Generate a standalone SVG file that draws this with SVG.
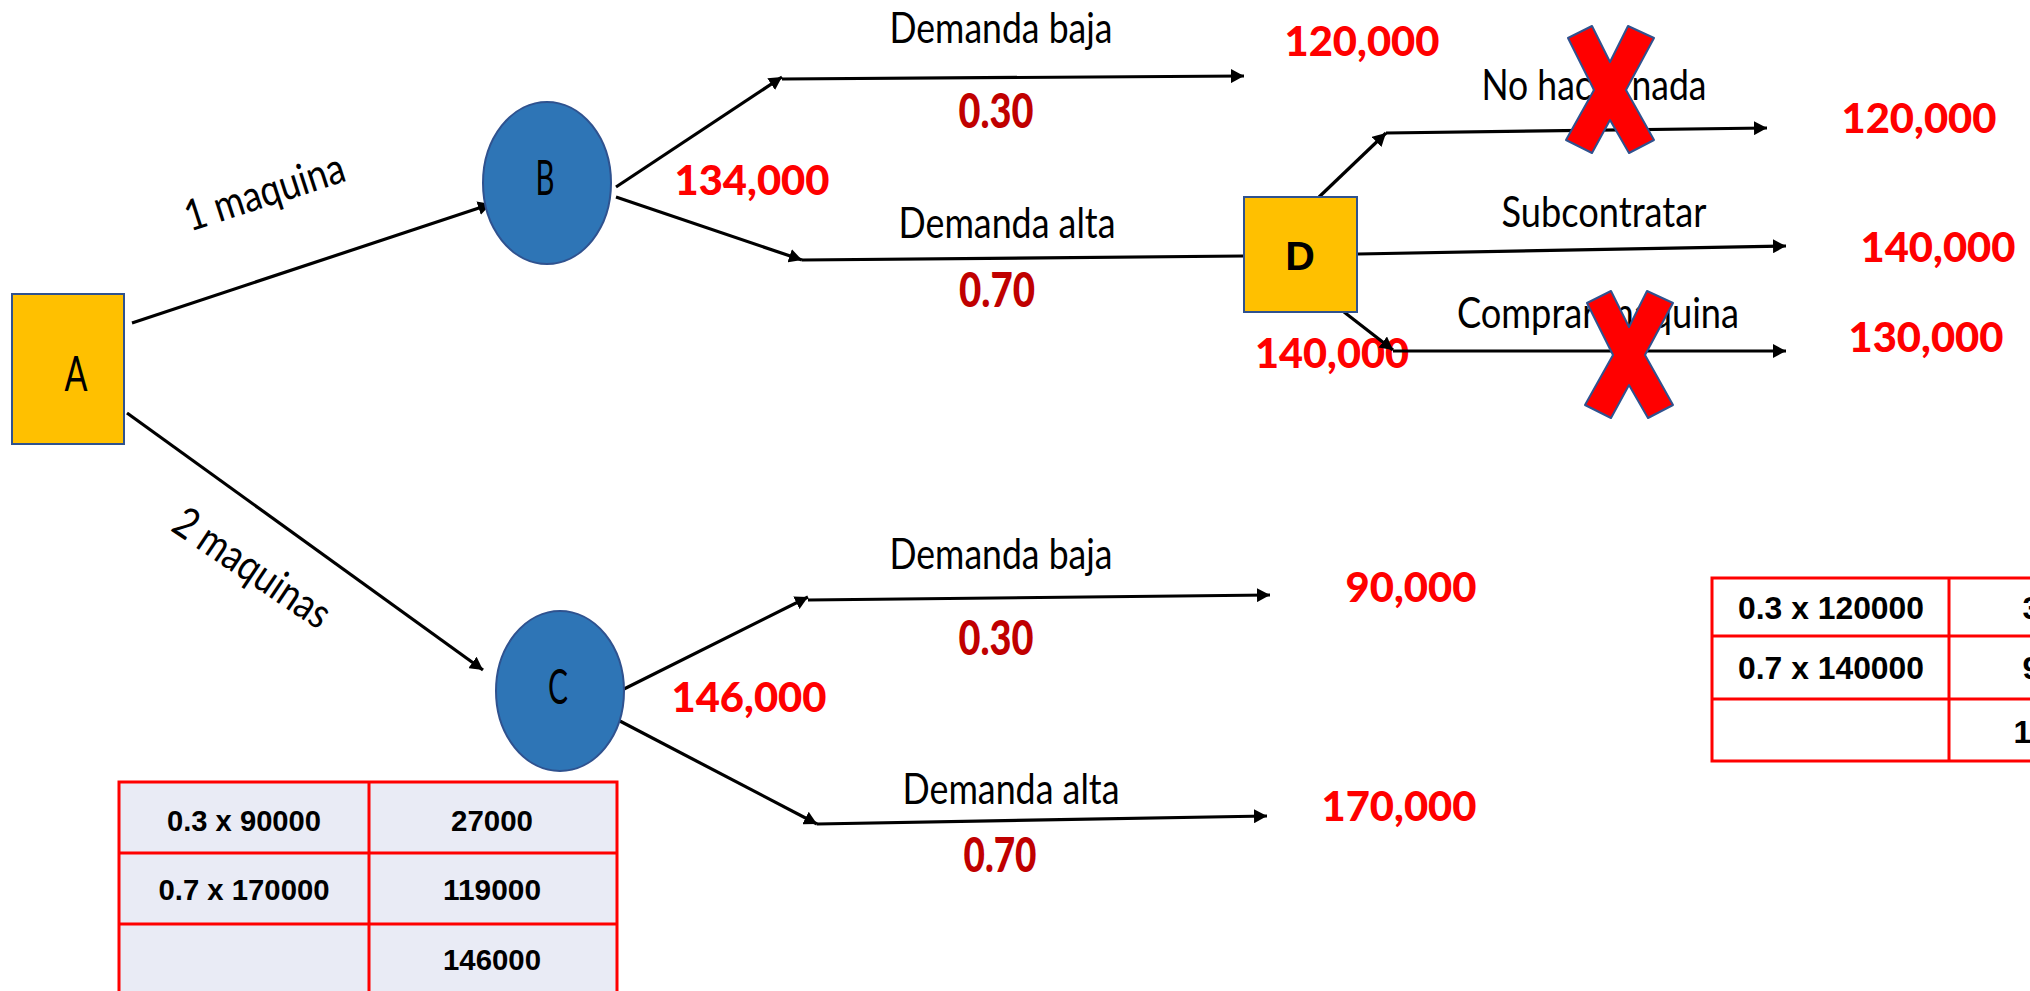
<svg xmlns="http://www.w3.org/2000/svg" width="2030" height="991" viewBox="0 0 2030 991">
  <style>
    .lbl { font-family: Lato, "Open Sans", sans-serif; font-size: 43px; fill: #000; text-anchor: middle; }
    .node-txt { font-family: Lato, "Open Sans", sans-serif; font-size: 48px; fill: #000; text-anchor: middle; }
    .val { font-family: Lato, "Open Sans", sans-serif; font-weight: 900; font-size: 41px; fill: #FF0000; text-anchor: middle; }
    .prob { font-family: Lato, "Open Sans", sans-serif; font-weight: 900; font-size: 47px; fill: #C00000; text-anchor: middle; }
    .cell { font-family: "Liberation Sans", Arial, sans-serif; font-weight: bold; font-size: 30px; fill: #000; text-anchor: middle; }
    .cell-r { font-family: "Liberation Sans", Arial, sans-serif; font-weight: bold; font-size: 32px; fill: #000; text-anchor: middle; }
    .edge { stroke: #000; stroke-width: 3.2; fill: none; }
    .arrow { marker-end: url(#head); }
    .decision { fill: #FFC000; stroke: #2F528F; stroke-width: 2; }
    .chance { fill: #2E75B6; stroke: #2F528F; stroke-width: 2; }
    .grid { stroke: #FF0000; stroke-width: 3; fill: none; }
    .cross { fill: #FF0000; stroke: #2F528F; stroke-width: 2; stroke-linejoin: round; }
  </style>
  <defs>
    <marker id="head" markerUnits="userSpaceOnUse" markerWidth="14" markerHeight="14" refX="13" refY="7" orient="auto">
      <path d="M0,0 L13,7 L0,14 Z" fill="#000"/>
    </marker>
    <!-- X mark used to strike out rejected options, centred on 0,0 -->
    <path id="x-mark" d="M-42,-52 L-18,-64 L0,-28 L18,-64 L44,-52 L16,0 L44,50 L19,63 L0,30 L-18,63 L-44,50 L-16,0 Z"/>
  </defs>

  <rect width="2030" height="991" fill="#FFFFFF"/>

  <!-- expected value tables -->
  <g id="table-c">
    <rect x="119" y="782" width="498" height="220" fill="#E9EBF5"/>
    <path class="grid" d="M119,1002 V782 H617 V1002 M369,782 V1002 M119,853 H617 M119,924 H617"/>
    <text class="cell" x="244" y="831" textLength="154" lengthAdjust="spacingAndGlyphs">0.3 x 90000</text>
    <text class="cell" x="492" y="831" textLength="82" lengthAdjust="spacingAndGlyphs">27000</text>
    <text class="cell" x="244" y="900" textLength="171" lengthAdjust="spacingAndGlyphs">0.7 x 170000</text>
    <text class="cell" x="492" y="900" textLength="98" lengthAdjust="spacingAndGlyphs">119000</text>
    <text class="cell" x="492" y="970" textLength="98" lengthAdjust="spacingAndGlyphs">146000</text>
  </g>
  <g id="table-b">
    <rect x="1712" y="578" width="474" height="183" fill="#FFFFFF"/>
    <path class="grid" d="M1712,578 H2186 V761 H1712 Z M1949,578 V761 M1712,636 H2186 M1712,699 H2186"/>
    <text class="cell-r" x="1831" y="619" textLength="186" lengthAdjust="spacingAndGlyphs">0.3 x 120000</text>
    <text class="cell-r" x="1831" y="679" textLength="186" lengthAdjust="spacingAndGlyphs">0.7 x 140000</text>
    <text class="cell-r" x="2067" y="619">36000</text>
    <text class="cell-r" x="2067" y="679">98000</text>
    <text class="cell-r" x="2067" y="743">134000</text>
  </g>

  <!-- branch labels, probabilities and payoffs -->
  <g id="labels">
    <text class="lbl" transform="translate(269,206) rotate(-18)" textLength="166" lengthAdjust="spacingAndGlyphs">1 maquina</text>
    <text class="lbl" transform="translate(244,580) rotate(34)" textLength="180" lengthAdjust="spacingAndGlyphs">2 maquinas</text>

    <text class="lbl" x="1001" y="43" textLength="223" lengthAdjust="spacingAndGlyphs">Demanda baja</text>
    <text class="prob" x="996" y="128" textLength="75" lengthAdjust="spacingAndGlyphs">0.30</text>
    <text class="val" x="752" y="195" textLength="155" lengthAdjust="spacingAndGlyphs">134,000</text>
    <text class="lbl" x="1007" y="238" textLength="217" lengthAdjust="spacingAndGlyphs">Demanda alta</text>
    <text class="prob" x="997" y="307" textLength="76" lengthAdjust="spacingAndGlyphs">0.70</text>
    <text class="val" x="1362" y="56" textLength="155" lengthAdjust="spacingAndGlyphs">120,000</text>

    <text class="lbl" x="1594" y="100" textLength="225" lengthAdjust="spacingAndGlyphs">No hacer nada</text>
    <text class="val" x="1919" y="133" textLength="155" lengthAdjust="spacingAndGlyphs">120,000</text>
    <text class="lbl" x="1604" y="227" textLength="205" lengthAdjust="spacingAndGlyphs">Subcontratar</text>
    <text class="val" x="1938" y="262" textLength="155" lengthAdjust="spacingAndGlyphs">140,000</text>
    <text class="lbl" x="1598" y="328" textLength="282" lengthAdjust="spacingAndGlyphs">Comprar maquina</text>
    <text class="val" x="1926" y="352" textLength="155" lengthAdjust="spacingAndGlyphs">130,000</text>
    <text class="val" x="1332" y="368" textLength="154" lengthAdjust="spacingAndGlyphs">140,000</text>

    <text class="lbl" x="1001" y="569" textLength="223" lengthAdjust="spacingAndGlyphs">Demanda baja</text>
    <text class="prob" x="996" y="655" textLength="75" lengthAdjust="spacingAndGlyphs">0.30</text>
    <text class="val" x="749" y="712" textLength="155" lengthAdjust="spacingAndGlyphs">146,000</text>
    <text class="lbl" x="1011" y="804" textLength="217" lengthAdjust="spacingAndGlyphs">Demanda alta</text>
    <text class="prob" x="1000" y="872" textLength="73" lengthAdjust="spacingAndGlyphs">0.70</text>
    <text class="val" x="1411" y="602" textLength="131" lengthAdjust="spacingAndGlyphs">90,000</text>
    <text class="val" x="1399" y="821" textLength="155" lengthAdjust="spacingAndGlyphs">170,000</text>
  </g>

  <!-- branches -->
  <g id="connectors">
    <line class="edge arrow" x1="132" y1="323" x2="491" y2="204"/>
    <line class="edge arrow" x1="127" y1="413" x2="483" y2="670"/>

    <line class="edge arrow" x1="616" y1="187" x2="782" y2="77"/>
    <line class="edge arrow" x1="782" y1="79" x2="1244" y2="76"/>
    <line class="edge arrow" x1="616" y1="197" x2="802" y2="260"/>
    <line class="edge" x1="802" y1="260" x2="1244" y2="256"/>

    <line class="edge arrow" x1="1319" y1="197" x2="1386" y2="133"/>
    <line class="edge arrow" x1="1386" y1="133" x2="1767" y2="128"/>
    <line class="edge arrow" x1="1358" y1="254" x2="1786" y2="246"/>
    <line class="edge arrow" x1="1344" y1="312" x2="1393" y2="350"/>
    <line class="edge arrow" x1="1393" y1="351" x2="1786" y2="351"/>

    <line class="edge arrow" x1="622" y1="690" x2="808" y2="597"/>
    <line class="edge arrow" x1="808" y1="600" x2="1270" y2="595"/>
    <line class="edge arrow" x1="616" y1="719" x2="817" y2="824"/>
    <line class="edge arrow" x1="817" y1="824" x2="1267" y2="816"/>
  </g>

  <!-- nodes -->
  <g id="node-a">
    <rect class="decision" x="12" y="294" width="112" height="150"/>
    <text class="node-txt" x="76" y="391" textLength="23" lengthAdjust="spacingAndGlyphs">A</text>
  </g>
  <g id="node-b">
    <ellipse class="chance" cx="547" cy="183" rx="64" ry="81"/>
    <text class="node-txt" x="545" y="195" textLength="19" lengthAdjust="spacingAndGlyphs">B</text>
  </g>
  <g id="node-c">
    <ellipse class="chance" cx="560" cy="691" rx="64" ry="80"/>
    <text class="node-txt" x="558" y="704" textLength="20" lengthAdjust="spacingAndGlyphs">C</text>
  </g>
  <g id="node-d">
    <rect class="decision" x="1244" y="197" width="113" height="115"/>
    <text x="1300" y="270" font-family="'Liberation Sans', Arial, sans-serif" font-weight="bold" font-size="41" text-anchor="middle">D</text>
  </g>

  <!-- rejected options -->
  <g id="rejected">
    <use href="#x-mark" class="cross" x="1610" y="90"/>
    <use href="#x-mark" class="cross" x="1629" y="355"/>
  </g>
</svg>
